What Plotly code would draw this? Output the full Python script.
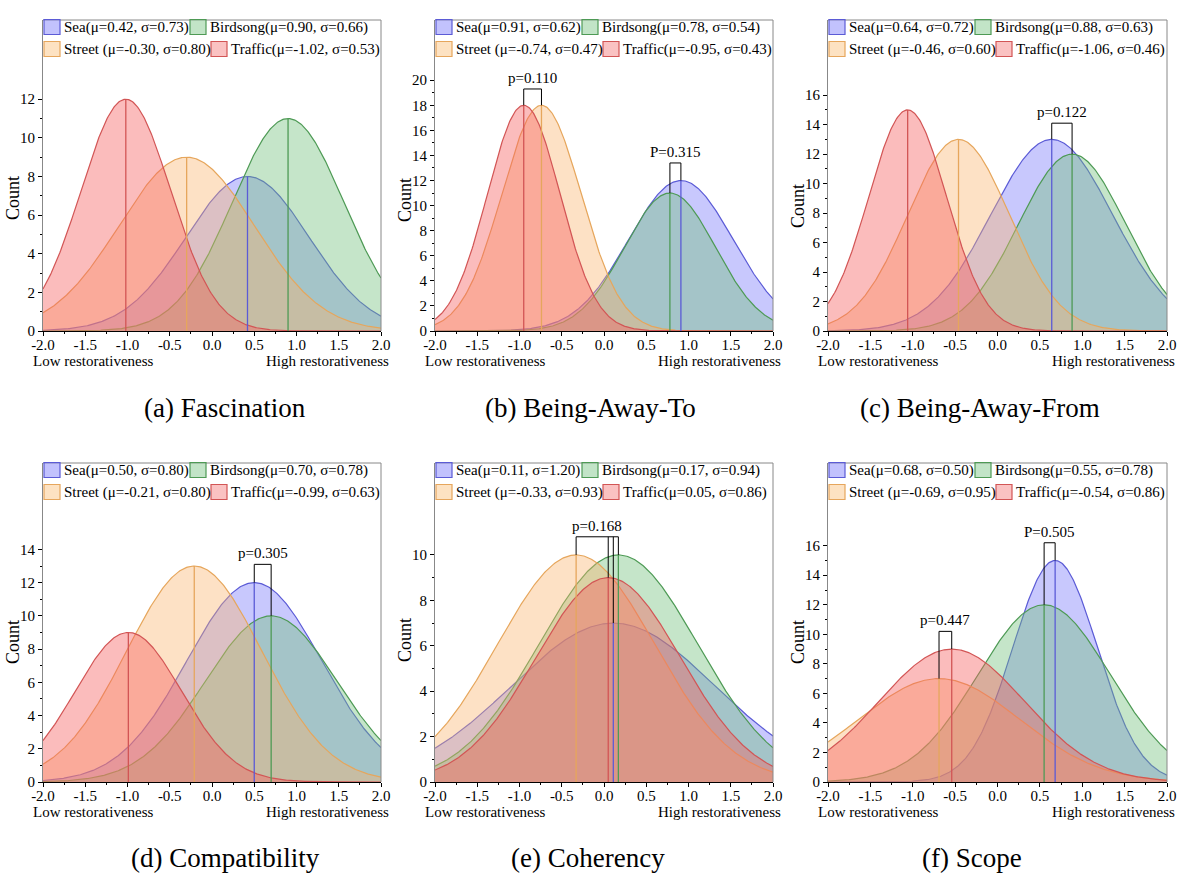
import plotly.graph_objects as go
import numpy as np

W, H = 1180, 884

# ---------------- data ----------------
series = ["Sea", "Birdsong", "Street", "Traffic"]
panel_titles = ["(a) Fascination", "(b) Being-Away-To", "(c) Being-Away-From",
                "(d) Compatibility", "(e) Coherency", "(f) Scope"]

# mean (mu), std (sigma), peak count per panel, order Sea, Birdsong, Street, Traffic
mu_a = [0.42, 0.90, -0.30, -1.02]
sd_a = [0.73, 0.66, 0.80, 0.53]
pk_a = [8, 11, 9, 12]

mu_b = [0.91, 0.78, -0.74, -0.95]
sd_b = [0.62, 0.54, 0.47, 0.43]
pk_b = [12, 11, 18, 18]

mu_c = [0.64, 0.88, -0.46, -1.06]
sd_c = [0.72, 0.63, 0.60, 0.46]
pk_c = [13, 12, 13, 15]

mu_d = [0.50, 0.70, -0.21, -0.99]
sd_d = [0.80, 0.78, 0.80, 0.63]
pk_d = [12, 10, 13, 9]

mu_e = [0.11, 0.17, -0.33, 0.05]
sd_e = [1.20, 0.94, 0.93, 0.86]
pk_e = [7, 10, 10, 9]

mu_f = [0.68, 0.55, -0.69, -0.54]
sd_f = [0.50, 0.78, 0.95, 0.86]
pk_f = [15, 12, 7, 9]

# y tick tops and axis maxima
ytick_top = [12, 20, 16, 14, 10, 16]
y_max = [16.1, 24.8, 21.1, 19.2, 14.05, 21.6]

# p-value brackets: (label, list of series indices spanned, bracket top)
brackets_a = []
brackets_b = [("p=0.110", [3, 2], 19.3), ("P=0.315", [1, 0], 13.4)]
brackets_c = [("p=0.122", [0, 1], 14.1)]
brackets_d = [("p=0.305", [0, 1], 13.1)]
brackets_e = [("p=0.168", [2, 3, 0, 1], 10.8)]
brackets_f = [("p=0.447", [2, 3], 10.2), ("P=0.505", [1, 0], 16.2)]

x_ticks = [-2.0, -1.5, -1.0, -0.5, 0.0, 0.5, 1.0, 1.5, 2.0]

# ---------------- styles ----------------
FONT = "Liberation Serif, Times New Roman, serif"
line_cols = ["#5b5bd6", "#4e9a55", "#e6a65c", "#d25555"]
fill_cols = ["rgba(110,110,250,0.38)", "rgba(110,190,120,0.40)",
             "rgba(250,180,110,0.40)", "rgba(245,95,95,0.42)"]
box_fill = ["rgba(120,120,250,0.45)", "rgba(120,195,130,0.45)",
            "rgba(250,190,120,0.45)", "rgba(245,120,120,0.45)"]

panels = [
    (mu_a, sd_a, pk_a, brackets_a),
    (mu_b, sd_b, pk_b, brackets_b),
    (mu_c, sd_c, pk_c, brackets_c),
    (mu_d, sd_d, pk_d, brackets_d),
    (mu_e, sd_e, pk_e, brackets_e),
    (mu_f, sd_f, pk_f, brackets_f),
]

# pixel frames (left, right, top, bottom)
lefts = [43, 435, 828]
rights = [381, 773, 1167]
tops = [20, 463]
bottoms = [331, 782]
count_y = [[198, 200, 206], [642, 640, 642]]
caption_x = [[225, 590, 980], [225, 588, 972]]
caption_y = [408, 858]


def px(x):
    return x / W


def py(y):
    return 1 - y / H


fig = go.Figure()
layout = dict(
    width=W, height=H, margin=dict(l=0, r=0, t=0, b=0, autoexpand=False),
    plot_bgcolor="white", paper_bgcolor="white", showlegend=False,
    font=dict(family=FONT, size=15, color="black"),
)
shapes = []
annotations = []

xs = np.linspace(-2, 2, 401)

for i, (mus, sds, pks, brs) in enumerate(panels):
    r, c = divmod(i, 3)
    L, R, T, B = lefts[c], rights[c], tops[r], bottoms[r]
    k = "" if i == 0 else str(i + 1)
    xa, ya = "x" + k, "y" + k
    xname, yname = "xaxis" + k, "yaxis" + k

    for j in range(4):
        ys = pks[j] * np.exp(-((xs - mus[j]) ** 2) / (2 * sds[j] ** 2))
        fig.add_trace(go.Scatter(
            x=xs, y=ys, mode="lines", fill="tozeroy",
            fillcolor=fill_cols[j], line=dict(color=line_cols[j], width=1.2),
            xaxis=xa, yaxis=ya, hoverinfo="skip"))
        shapes.append(dict(type="line", xref=xa, yref=ya, x0=mus[j], x1=mus[j],
                           y0=0, y1=pks[j], line=dict(color=line_cols[j], width=1.3)))

    layout[xname] = dict(
        domain=[px(L), px(R)], anchor=ya, range=[-2, 2], automargin=False,
        tickmode="array", tickvals=x_ticks, ticktext=[f"{v:.1f}" for v in x_ticks],
        ticks="outside", ticklen=4, tickcolor="black", showgrid=False, zeroline=False,
        showline=True, linecolor="black", linewidth=1, ticklabelstandoff=-4,
        tickfont=dict(family=FONT, size=15),
        minor=dict(tickmode="array", tickvals=[-1.75, -1.25, -0.75, -0.25, 0.25, 0.75, 1.25, 1.75],
                   ticks="outside", ticklen=2, tickcolor="black"),
        fixedrange=True,
    )
    top = ytick_top[i]
    layout[yname] = dict(
        domain=[py(B), py(T)], anchor=xa, range=[0, y_max[i]], automargin=False,
        tickmode="array", tickvals=list(range(0, top + 1, 2)),
        ticks="outside", ticklen=4, tickcolor="black", showgrid=False, zeroline=False,
        showline=True, linecolor="#888888", linewidth=1,
        tickfont=dict(family=FONT, size=15),
        minor=dict(tickmode="array", tickvals=list(range(1, top, 2)),
                   ticks="outside", ticklen=2, tickcolor="black"),
        fixedrange=True,
    )
    # top and right frame lines
    shapes.append(dict(type="line", xref="paper", yref="paper", x0=px(L), x1=px(R),
                       y0=py(T), y1=py(T), line=dict(color="#888888", width=1)))
    shapes.append(dict(type="line", xref="paper", yref="paper", x0=px(R), x1=px(R),
                       y0=py(T), y1=py(B), line=dict(color="#888888", width=1)))

    # legend (two rows)
    labels = [f"Sea(μ={mus[0]:.2f}, σ={sds[0]:.2f})",
              f"Birdsong(μ={mus[1]:.2f}, σ={sds[1]:.2f})",
              f"Street (μ={mus[2]:.2f}, σ={sds[2]:.2f})",
              f"Traffic(μ={mus[3]:.2f}, σ={sds[3]:.2f})"]
    legend_pos = [(1, 7), (147, 7), (1, 29), (168, 29)]
    for j in range(4):
        bx, by = legend_pos[j]
        x0 = L + bx
        yc = T + by
        shapes.append(dict(type="rect", xref="paper", yref="paper",
                           x0=px(x0), x1=px(x0 + 16), y0=py(yc + 7.5), y1=py(yc - 7.5),
                           fillcolor=box_fill[j], line=dict(color=line_cols[j], width=1.2)))
        annotations.append(dict(x=px(x0 + 18), y=py(yc), xref="paper", yref="paper",
                                text=labels[j], showarrow=False, xanchor="left",
                                yanchor="middle", font=dict(family=FONT, size=15)))

    # brackets
    for (lab, idxs, btop) in brs:
        xsb = [mus[j] for j in idxs]
        left_i, right_i = idxs[0], idxs[-1]
        path = (f"M {mus[left_i]},{pks[left_i]} L {mus[left_i]},{btop} "
                f"L {mus[right_i]},{btop} L {mus[right_i]},{pks[right_i]}")
        shapes.append(dict(type="path", xref=xa, yref=ya, path=path,
                           line=dict(color="black", width=1)))
        for j in idxs[1:-1]:
            shapes.append(dict(type="line", xref=xa, yref=ya, x0=mus[j], x1=mus[j],
                               y0=pks[j], y1=btop, line=dict(color="black", width=1)))
        annotations.append(dict(x=(min(xsb) + max(xsb)) / 2, y=btop, xref=xa, yref=ya,
                                text=lab, showarrow=False, xanchor="center",
                                yanchor="bottom", yshift=1, font=dict(family=FONT, size=15)))

    # axis end labels
    annotations.append(dict(x=px(L - 12), y=py(B + 30), xref="paper", yref="paper",
                            text="Low restorativeness", showarrow=False, xanchor="left",
                            yanchor="middle", font=dict(family=FONT, size=15)))
    annotations.append(dict(x=px(R + 10), y=py(B + 30), xref="paper", yref="paper",
                            text="High restorativeness", showarrow=False, xanchor="right",
                            yanchor="middle", font=dict(family=FONT, size=15)))
    # y title
    annotations.append(dict(x=px(L - 30), y=py(count_y[r][c]), xref="paper", yref="paper",
                            text="Count", showarrow=False, textangle=-90,
                            xanchor="center", yanchor="middle", font=dict(family=FONT, size=18)))
    # caption
    annotations.append(dict(x=px(caption_x[r][c]), y=py(caption_y[r]), xref="paper", yref="paper",
                            text=panel_titles[i], showarrow=False, xanchor="center",
                            yanchor="middle", font=dict(family=FONT, size=27)))

layout["shapes"] = shapes
layout["annotations"] = annotations
fig.update_layout(**layout)
fig.write_html("out.html", config={"displayModeBar": False},
               post_script="document.body.style.margin='0';document.body.style.overflow='hidden';")
